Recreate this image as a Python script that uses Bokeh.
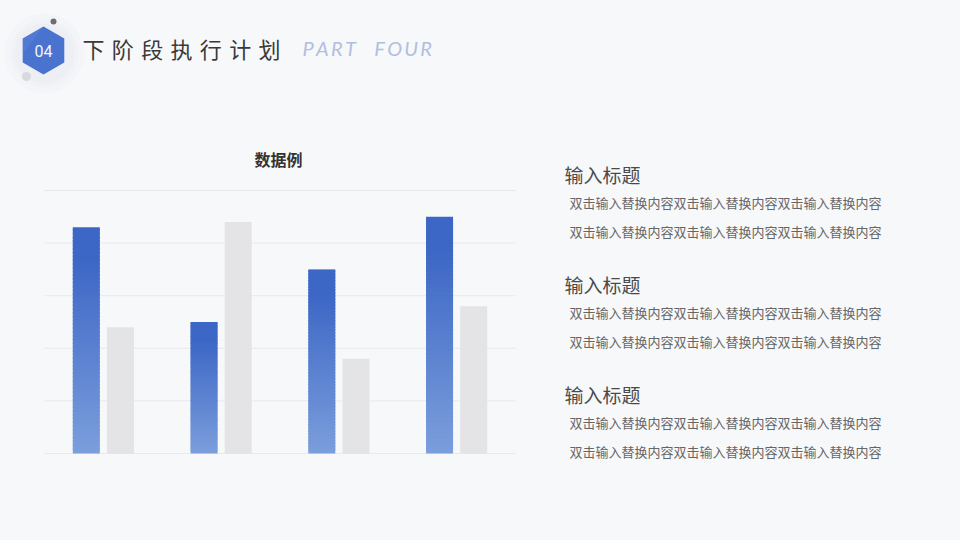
import math
from bokeh.plotting import figure
from bokeh.models import Range1d, Label
from bokeh.embed import file_html
from bokeh.resources import INLINE

# data
categories = ["类别1", "类别2", "类别3", "类别4"]
series1 = [4.3, 2.5, 3.5, 4.5]
series2 = [2.4, 4.4, 1.8, 2.8]
grid_ticks = [0, 1, 2, 3, 4, 5]

chart_title = "数据例"
page_title = "\u2004".join("下阶段执行计划")
page_sub = "\u2009".join("PART") + "\u2002\u2002" + "\u2009".join("FOUR")
block_title = "输入标题"
block_line = "双击输入替换内容双击输入替换内容双击输入替换内容"

W, H = 960, 540
BG = "#F7F8FA"

# map page pixels to data coords (chart area 44..515 px wide, 0 at y=453, 5 at y=190)
ppu_x = (515 - 44) / len(categories)
ppu_y = (453 - 190) / 5.0
x0 = -44 / ppu_x
y0 = -(H - 453) / ppu_y


def px(X):
    return x0 + X / ppu_x


def py(Y):
    return y0 + (H - Y) / ppu_y


p = figure(width=W, height=H, output_backend="svg", toolbar_location=None,
           x_range=Range1d(x0, x0 + W / ppu_x), y_range=Range1d(y0, y0 + H / ppu_y),
           min_border=0)
p.axis.visible = False
p.grid.visible = False
p.outline_line_color = None
p.background_fill_color = BG
p.border_fill_color = BG

# gridlines
p.segment(x0=[0] * len(grid_ticks), x1=[len(categories)] * len(grid_ticks),
          y0=grid_ticks, y1=grid_ticks, line_color="#E8E9ED", line_width=1)

# bars (blue series drawn as thin slices to fake the gradient)
bw = 27 / ppu_x
off = 0.145
top_c = (61, 103, 198)
bot_c = (123, 158, 220)
N = 60
xs, bots, tops, cols = [], [], [], []
for i, v in enumerate(series1):
    for j in range(N):
        t = j / (N - 1)
        c = tuple(int(bot_c[k] + (top_c[k] - bot_c[k]) * min(1, t * 1.15)) for k in range(3))
        xs.append(i + 0.5 - off)
        bots.append(v * j / N)
        tops.append(min(v, v * (j + 1.6) / N))
        cols.append("#%02x%02x%02x" % c)
p.vbar(x=xs, bottom=bots, top=tops, width=bw, fill_color=cols, line_color=None)
p.vbar(x=[i + 0.5 + off for i in range(len(categories))], top=series2, width=bw,
       fill_color="#E4E4E6", line_color=None)

FONT = "Noto Sans CJK SC"


def label(text, X, Y, size, color, align="left", style="normal", font=FONT):
    p.add_layout(Label(x=px(X), y=py(Y), text=text, text_font=font,
                       text_font_size=f"{size}px", text_color=color,
                       text_align=align, text_baseline="middle",
                       text_font_style=style))


label(chart_title, 278, 158, 16, "#333333", align="center", style="bold")

for k in range(3):
    base = 174 + 110 * k
    label(block_title, 564, base, 19, "#4A4A4A")
    label(block_line, 569, base + 28, 13, "#666666")
    label(block_line, 569, base + 57, 13, "#666666")

# header decoration
cx, cy, R = 43, 50, 24
for s, a in [(80, 0.12), (68, 0.16), (60, 0.2)]:
    p.scatter(x=[px(cx + 1)], y=[py(cy + 3)], size=s, marker="circle",
              fill_color="#E2E6EF", fill_alpha=a, line_color=None)
hx = [px(cx + R * math.cos(math.radians(90 + 60 * a))) for a in range(6)]
hy = [py(cy - R * math.sin(math.radians(90 + 60 * a))) for a in range(6)]
p.patch(hx, hy, fill_color="#4A72CF", line_color=None)
p.patch(hx[:2] + [px(cx - R * 0.866)], hy[:2] + [py(cy + 4)],
        fill_color="#6A8FE0", fill_alpha=0.25, line_color=None)
p.scatter(x=[px(53)], y=[py(21)], size=6, marker="circle",
          fill_color="#6E6E72", line_color=None)
p.scatter(x=[px(26)], y=[py(76)], size=9, marker="circle",
          fill_color="#D8D9DE", line_color=None)
label("04", cx, cy, 16, "#F4F6FC", align="center", font="Roboto")

label(page_title, 82, 47, 22, "#3A3A3A")
label(page_sub, 302, 47, 20, "#B2BEE0", style="italic", font="Lato")

html = file_html(p, INLINE).replace("<body>", '<body style="background:#F7F8FA">')
open("out.html", "w").write(html)
